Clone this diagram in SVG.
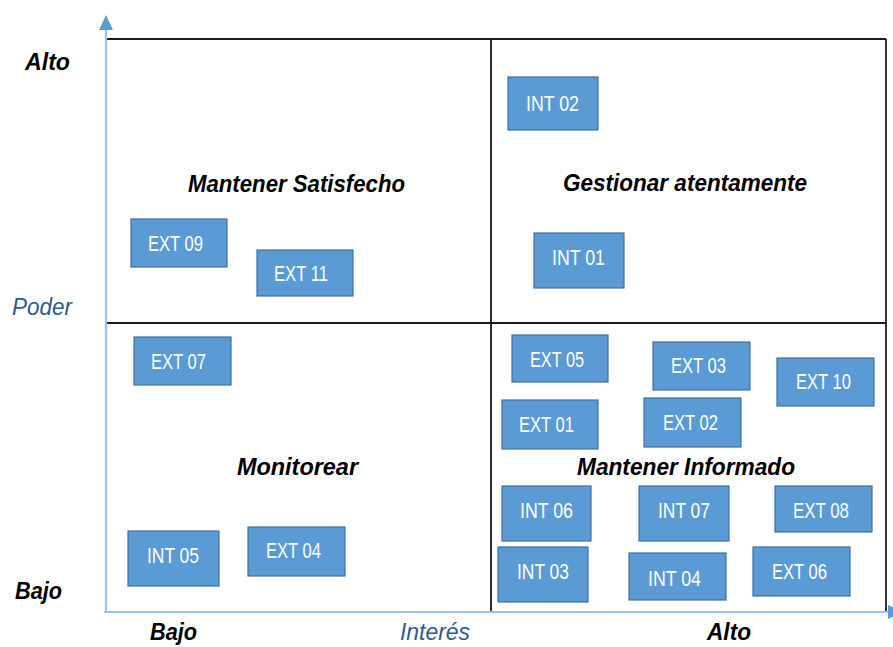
<svg xmlns="http://www.w3.org/2000/svg" width="893" height="647" viewBox="0 0 893 647">
<defs>
<style>
.box{fill:#5B9BD5;stroke:#41719C;stroke-width:1.2}
.bt{font-family:"Liberation Sans",Arial,sans-serif;font-size:22px;fill:#FFFFFF}
.hd{font-family:"Liberation Sans",Arial,sans-serif;font-size:23px;font-weight:bold;font-style:italic;fill:#000000}
.ax{font-family:"Liberation Sans",Arial,sans-serif;font-size:23px;font-style:italic;fill:#2F5A8C}
.grid{stroke:#1A1A1A;stroke-width:1.8;fill:none}
.axis{stroke:#9DC3E6;stroke-width:2.2;fill:none}
</style>
<marker id="arr" markerUnits="userSpaceOnUse" markerWidth="16" markerHeight="16" viewBox="0 -8 16 16" refX="0" refY="0" orient="auto">
<path d="M0,-7 L15,0 L0,7 Z" fill="#5B9BD5"/>
</marker>
</defs>
<rect x="0" y="0" width="893" height="647" fill="#FFFFFF"/>
<g id="grid">
<line class="grid" x1="105" y1="39" x2="886" y2="39"/>
<line class="grid" x1="886" y1="39" x2="886" y2="611"/>
<line class="grid" x1="491" y1="39" x2="491" y2="611"/>
<line class="grid" x1="105" y1="323" x2="886" y2="323"/>
</g>
<g id="connectors">
<line class="axis" x1="106" y1="612" x2="106" y2="30" marker-end="url(#arr)"/>
<line class="axis" x1="104" y1="612" x2="888" y2="612" marker-end="url(#arr)"/>
</g>
<g id="axis-labels">
<text class="hd" x="25" y="70" textLength="45" lengthAdjust="spacingAndGlyphs">Alto</text>
<text class="ax" x="12" y="315" textLength="60" lengthAdjust="spacingAndGlyphs">Poder</text>
<text class="hd" x="15" y="599" textLength="47" lengthAdjust="spacingAndGlyphs">Bajo</text>
<text class="hd" x="150" y="640" textLength="47" lengthAdjust="spacingAndGlyphs">Bajo</text>
<text class="ax" x="400" y="640" textLength="70" lengthAdjust="spacingAndGlyphs">Interés</text>
<text class="hd" x="707" y="640" textLength="44" lengthAdjust="spacingAndGlyphs">Alto</text>
</g>
<g id="quadrant-labels">
<text class="hd" x="188" y="192" textLength="217" lengthAdjust="spacingAndGlyphs">Mantener Satisfecho</text>
<text class="hd" x="563" y="191" textLength="244" lengthAdjust="spacingAndGlyphs">Gestionar atentamente</text>
<text class="hd" x="237" y="475" textLength="121" lengthAdjust="spacingAndGlyphs">Monitorear</text>
<text class="hd" x="577" y="475" textLength="218" lengthAdjust="spacingAndGlyphs">Mantener Informado</text>
</g>
<g id="EXT09"><rect class="box" x="131" y="219" width="96" height="48"/><text class="bt" x="148" y="251" textLength="55" lengthAdjust="spacingAndGlyphs">EXT 09</text></g>
<g id="EXT11"><rect class="box" x="257" y="250" width="96" height="46"/><text class="bt" x="274" y="281" textLength="54" lengthAdjust="spacingAndGlyphs">EXT 11</text></g>
<g id="EXT07"><rect class="box" x="134" y="337" width="97" height="48"/><text class="bt" x="151" y="369" textLength="55" lengthAdjust="spacingAndGlyphs">EXT 07</text></g>
<g id="INT02"><rect class="box" x="508" y="77" width="90" height="53"/><text class="bt" x="526" y="111" textLength="53" lengthAdjust="spacingAndGlyphs">INT 02</text></g>
<g id="INT01"><rect class="box" x="534" y="233" width="90" height="55"/><text class="bt" x="552" y="265" textLength="53" lengthAdjust="spacingAndGlyphs">INT 01</text></g>
<g id="EXT05"><rect class="box" x="512" y="335" width="96" height="47"/><text class="bt" x="530" y="367" textLength="54" lengthAdjust="spacingAndGlyphs">EXT 05</text></g>
<g id="EXT03"><rect class="box" x="653" y="342" width="97" height="48"/><text class="bt" x="671" y="373" textLength="55" lengthAdjust="spacingAndGlyphs">EXT 03</text></g>
<g id="EXT10"><rect class="box" x="777" y="358" width="97" height="48"/><text class="bt" x="796" y="389" textLength="55" lengthAdjust="spacingAndGlyphs">EXT 10</text></g>
<g id="EXT01"><rect class="box" x="502" y="400" width="96" height="49"/><text class="bt" x="519" y="432" textLength="55" lengthAdjust="spacingAndGlyphs">EXT 01</text></g>
<g id="EXT02"><rect class="box" x="644" y="398" width="97" height="49"/><text class="bt" x="663" y="430" textLength="55" lengthAdjust="spacingAndGlyphs">EXT 02</text></g>
<g id="INT06"><rect class="box" x="502" y="486" width="89" height="55"/><text class="bt" x="520" y="518" textLength="53" lengthAdjust="spacingAndGlyphs">INT 06</text></g>
<g id="INT07"><rect class="box" x="639" y="486" width="90" height="55"/><text class="bt" x="658" y="518" textLength="52" lengthAdjust="spacingAndGlyphs">INT 07</text></g>
<g id="EXT08"><rect class="box" x="775" y="486" width="97" height="46"/><text class="bt" x="793" y="518" textLength="56" lengthAdjust="spacingAndGlyphs">EXT 08</text></g>
<g id="INT03"><rect class="box" x="498" y="547" width="90" height="55"/><text class="bt" x="517" y="579" textLength="52" lengthAdjust="spacingAndGlyphs">INT 03</text></g>
<g id="INT04"><rect class="box" x="629" y="553" width="97" height="47"/><text class="bt" x="648" y="586" textLength="53" lengthAdjust="spacingAndGlyphs">INT 04</text></g>
<g id="EXT06"><rect class="box" x="753" y="547" width="97" height="49"/><text class="bt" x="772" y="579" textLength="55" lengthAdjust="spacingAndGlyphs">EXT 06</text></g>
<g id="INT05"><rect class="box" x="128" y="531" width="91" height="55"/><text class="bt" x="147" y="563" textLength="52" lengthAdjust="spacingAndGlyphs">INT 05</text></g>
<g id="EXT04"><rect class="box" x="248" y="527" width="97" height="49"/><text class="bt" x="266" y="558" textLength="55" lengthAdjust="spacingAndGlyphs">EXT 04</text></g>
</svg>
